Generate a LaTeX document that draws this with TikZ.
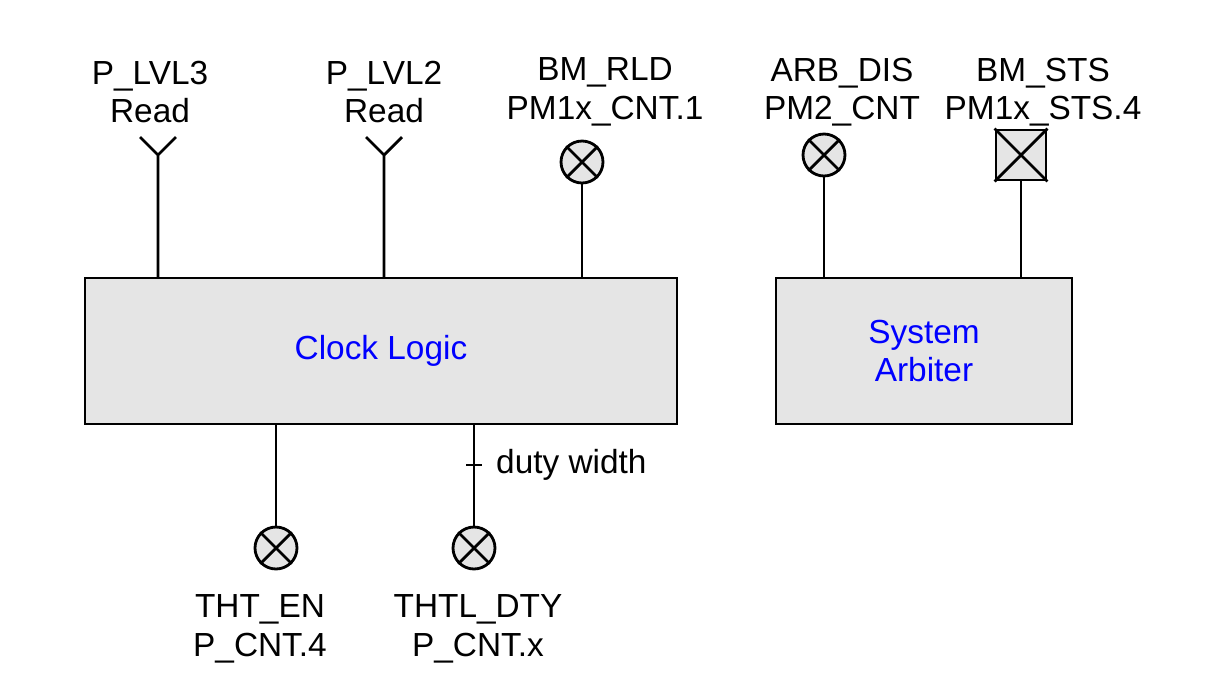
\documentclass[tikz,border=0pt]{standalone}
\usepackage{fontspec}
\setmainfont{Liberation Sans}
\usetikzlibrary{positioning}
\tikzset{
  block/.style={draw,thick,fill=black!10,text=blue,align=center,inner sep=0pt},
  pin/.style={draw,line width=1.6pt,circle,fill=black!10,minimum size=0.84cm,inner sep=0pt},
  sig/.style={line width=1.6pt},
  lbl/.style={align=center,font=\fontsize{19}{22}\selectfont}
}
\begin{document}
\begin{tikzpicture}[x=0.02cm,y=-0.02cm]
  \useasboundingbox (0,0) rectangle (1213,684);
  \node[block,minimum width=11.84cm,minimum height=2.92cm,lbl,text=blue] (clk) at (381,351) {Clock Logic};
  \node[block,minimum width=5.92cm,minimum height=2.92cm,lbl,text=blue] (arb) at (924,351) {System\\Arbiter};
  % top inputs
  \coordinate (y3) at (158,155);
  \coordinate (y2) at (384,155);
  \draw[sig] (158,278) -- (y3) -- ++(-18,-18) (y3) -- ++(18,-18);
  \draw[sig] (384,278) -- (y2) -- ++(-18,-18) (y2) -- ++(18,-18);
  \node[lbl] (lvl3) at (150,92) {P\_LVL3\\Read};
  \node[lbl] (lvl2) at (384,92) {P\_LVL2\\Read};
  \node[pin] (rld) at (582,162) {};
  \draw[sig] (rld.south) -- (582,278);
  \node[lbl] (rldl) at (605,92) {BM\_RLD\\PM1x\_CNT.1};
  \node[pin] (arbdis) at (824,155) {};
  \draw[sig] (arbdis.south) -- (824,278);
  \node[lbl] (arbl) at (842,92) {ARB\_DIS\\PM2\_CNT};
  \node[draw,line width=1.6pt,fill=black!10,minimum size=1cm,inner sep=0pt] (sts) at (1021,155) {};
  \draw[line width=1.6pt] (sts.north west) -- (sts.south east) (sts.north east) -- (sts.south west);
  \draw[sig] (sts.south) -- (1021,278);
  \node[lbl] (stsl) at (1043,92) {BM\_STS\\PM1x\_STS.4};
  % bottom outputs
  \node[pin] (en) at (276,548) {};
  \node[pin] (dty) at (474,548) {};
  \draw[sig] (276,424) -- (en.north);
  \draw[sig] (474,424) -- (dty.north);
  \draw[thick] (466,465) -- (482,465);
  \node[lbl,anchor=west] (dw) at (490,465) {duty width};
  \node[lbl] (enl) at (260,629) {THT\_EN\\P\_CNT.4};
  \node[lbl] (dtyl) at (478,629) {THTL\_DTY\\P\_CNT.x};
  \foreach \p in {rld,arbdis,en,dty}{
    \draw[line width=1.6pt] (\p.north west) -- (\p.south east) (\p.north east) -- (\p.south west);
  }
\end{tikzpicture}
\end{document}
